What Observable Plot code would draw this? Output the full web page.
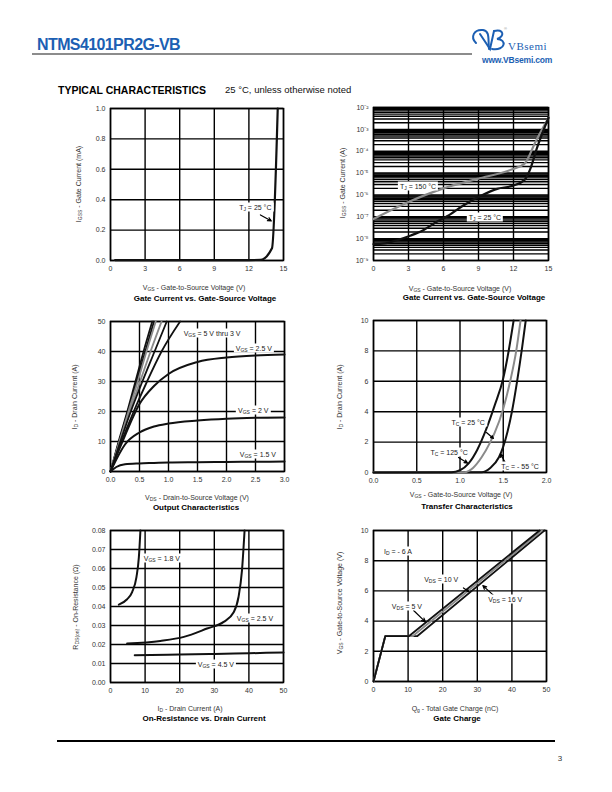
<!DOCTYPE html>
<html><head><meta charset="utf-8">
<script src="https://cdn.jsdelivr.net/npm/d3@7"></script>
<script src="https://cdn.jsdelivr.net/npm/@observablehq/plot@0.6"></script>
<style>
body{margin:0;background:#fff;font-family:"Liberation Sans",Arial,sans-serif;}
#page{position:relative;width:612px;height:792px;overflow:hidden;background:#fff;}
.abs{position:absolute;white-space:nowrap;line-height:1;}
.ax{font-size:7px;color:#333;}
.ttl{font-weight:bold;font-size:8px;color:#000;}
.ann{font-size:7px;color:#222;background:#fff;padding:1px 2px;}
sub{font-size:5px;vertical-align:-1.5px;line-height:0;}
</style></head>
<body><div id="page"></div>
<script>
// ---------- DATA ----------
// Chart 1: Gate current vs gate-source voltage (linear)
const c1Vgs  = [0.4, 3, 6, 9, 12, 13, 14, 14.5];
const c1Igss = [0.003, 0.003, 0.003, 0.003, 0.003, 0.004, 0.08, 1.0];
const c1XTicks = [0, 3, 6, 9, 12, 15];
const c1YTicks = [0, 0.2, 0.4, 0.6, 0.8, 1.0];

// Chart 2: Gate current vs gate-source voltage (log)
const c2Vgs150 = [0, 2.9, 6.0, 8.9, 11.9, 12.95, 13.9, 15];
const c2I150   = [7.9e-8, 4.5e-7, 2.0e-6, 5.4e-6, 1.5e-5, 2.7e-5, 2.8e-4, 3.4e-3];
const c2Vgs25  = [0, 0.9, 2, 3.2, 4.3, 5.5, 6.3, 7.7, 9.2, 10.6, 11.9, 12.95, 13.45, 14.0, 15];
const c2I25    = [5.6e-9, 6.0e-9, 8.5e-9, 1.4e-8, 2.5e-8, 6.2e-8, 1.05e-7, 3.3e-7, 9.1e-7, 1.9e-6, 2.6e-6, 4.9e-6, 1.6e-5, 1.35e-4, 3.4e-3];
const c2XTicks = [0, 3, 6, 9, 12, 15];
const c2YTicks = [1e-9, 1e-8, 1e-7, 1e-6, 1e-5, 1e-4, 1e-3, 1e-2];

// Chart 3: Output characteristics
const c3Vds    = [0, 0.1, 0.25, 0.5, 0.75, 1.0, 1.5, 2.0, 2.5, 3.0];
const c3Id15   = [0, 1.5, 2.4, 2.7, 2.85, 3.0, 3.1, 3.2, 3.25, 3.3];
const c3Id20   = [0, 4, 9, 13, 15, 16, 17, 17.6, 17.9, 18];
const c3Id25   = [0, 5, 12, 22.5, 28.5, 32.5, 36.5, 38, 38.7, 39];
const c3SteepId = [0, 10, 20, 30, 40, 50];
const c3SteepVgs = ["5 V", "4.5 V", "4 V", "3.5 V", "3.25 V", "3 V"];
const c3SteepVds = [
  [0, 0.14, 0.29, 0.43, 0.57, 0.72],
  [0, 0.15, 0.30, 0.45, 0.60, 0.75],
  [0, 0.155, 0.31, 0.47, 0.62, 0.78],
  [0, 0.16, 0.33, 0.51, 0.69, 0.88],
  [0, 0.17, 0.35, 0.55, 0.76, 0.97],
  [0, 0.19, 0.40, 0.63, 0.88, 1.2]
];
const c3SteepGray = [false, false, true, true, false, false];
const c3XTicks = [0, 0.5, 1.0, 1.5, 2.0, 2.5, 3.0];
const c3YTicks = [0, 10, 20, 30, 40, 50];

// Chart 4: Transfer characteristics
const c4Vgs125 = [0, 0.9, 1.0, 1.1, 1.2, 1.3, 1.4, 1.5, 1.55, 1.62];
const c4Id125  = [0, 0.02, 0.15, 0.6, 1.5, 2.8, 4.4, 6.2, 7.6, 10];
const c4Vgs25  = [0, 1.05, 1.15, 1.25, 1.35, 1.4, 1.5, 1.58, 1.65, 1.70];
const c4Id25   = [0, 0.02, 0.3, 1.0, 2.0, 2.6, 4.2, 6.0, 8.0, 10];
const c4Vgs55  = [0, 1.25, 1.35, 1.45, 1.5, 1.55, 1.6, 1.66, 1.72, 1.76];
const c4Id55   = [0, 0.02, 0.3, 1.0, 1.7, 2.7, 4.0, 6.0, 8.3, 10];
const c4XTicks = [0, 0.5, 1.0, 1.5, 2.0];
const c4YTicks = [0, 2, 4, 6, 8, 10];

// Chart 5: On-resistance vs drain current
const c5Id18 = [2.4, 4.8, 6.25, 7.5, 8.2, 8.65];
const c5R18  = [0.041, 0.0438, 0.0476, 0.0555, 0.066, 0.08];
const c5Id25 = [4.8, 14.4, 21.2, 27.9, 32.7, 35.6, 37.0, 38.0, 38.75];
const c5R25  = [0.0205, 0.0219, 0.024, 0.0284, 0.0319, 0.037, 0.045, 0.059, 0.08];
const c5Id45 = [7, 20, 30, 40, 50];
const c5R45  = [0.0144, 0.0147, 0.015, 0.0154, 0.0158];
const c5XTicks = [0, 10, 20, 30, 40, 50];
const c5YTicks = [0, 0.01, 0.02, 0.03, 0.04, 0.05, 0.06, 0.07, 0.08];

// Chart 6: Gate charge
const c6Qg5  = [0, 3.4, 10.2, 48.0];
const c6Qg10 = [0, 3.4, 11.3, 48.7];
const c6Qg16 = [0, 3.4, 12.6, 49.4];
const c6Vgs  = [0, 3.0, 3.0, 10];
const c6XTicks = [0, 10, 20, 30, 40, 50];
const c6YTicks = [0, 2, 4, 6, 8, 10];

// ---------- DRAWING ----------
const FONT = "Liberation Sans, Arial, sans-serif";
const page = document.getElementById("page");
const BLACK = "#111", GRAY = "#8a8a8a";

function text(html, cx, cy, cls, rot, anchor) {
  const d = document.createElement("div");
  d.className = "abs " + cls;
  d.innerHTML = html;
  d.style.left = cx + "px"; d.style.top = cy + "px";
  d.style.transform = (anchor === "left" ? "translate(0,-50%)" : "translate(-50%,-50%)") + (rot ? " rotate(-90deg)" : "");
  page.appendChild(d);
  return d;
}
const pairs = (xs, ys) => xs.map((x, i) => [x, ys[i]]);
const line = (xs, ys, stroke, w = 2) => Plot.line(pairs(xs, ys), {stroke, strokeWidth: w, curve: "monotone-x"});
const arrow = (x1, y1, x2, y2) => Plot.arrow([{x1, y1, x2, y2}], {x1: "x1", y1: "y1", x2: "x2", y2: "y2", stroke: "#000", strokeWidth: 1.2, headLength: 5, headAngle: 50});

function chart(cfg) {
  const ml = 40, mt = 8, mr = 10, mb = 22;
  const p = Plot.plot({
    width: cfg.W + ml + mr, height: cfg.H + mt + mb,
    marginLeft: ml, marginRight: mr, marginTop: mt, marginBottom: mb,
    style: {fontFamily: FONT, fontSize: "7px", color: "#333", background: "none", overflow: "visible"},
    x: cfg.x, y: cfg.y,
    marks: [
      Plot.ruleX(cfg.xGrid, {stroke: "#000", strokeWidth: 1.4}),
      Plot.ruleY(cfg.yGrid, {stroke: "#000", strokeWidth: 1.4}),
      Plot.frame({stroke: "#000", strokeWidth: 1.5}),
      Plot.axisX(cfg.xTicks, {tickSize: 0, tickPadding: 6, tickFormat: cfg.xFmt, label: null}),
      Plot.axisY(cfg.yTicks, {tickSize: 0, tickPadding: 5, tickFormat: cfg.yFmt, label: null}),
      ...cfg.marks
    ]
  });
  p.style.position = "absolute";
  p.style.left = (cfg.L - ml) + "px";
  p.style.top = (cfg.T - mt) + "px";
  page.appendChild(p);
  const sx = p.scale("x"), sy = p.scale("y");
  for (const a of cfg.notes || []) {
    text(a.html, cfg.L - ml + sx.apply(a.x), cfg.T - mt + sy.apply(a.y), "ann");
  }
  text(cfg.xLabel[0], cfg.xLabel[1], cfg.xLabel[2], "ax");
  text(cfg.yLabel[0], cfg.yLabel[1], cfg.yLabel[2], "ax", true);
  text(cfg.title[0], cfg.title[1], cfg.title[2], "ttl");
  return p;
}

const f1 = d3.format(".1f"), f2 = d3.format(".2f"), f0 = d3.format("d");
const supMap = {"-": "⁻", "0": "⁰", "1": "¹", "2": "²", "3": "³", "4": "⁴", "5": "⁵", "6": "⁶", "7": "⁷", "8": "⁸", "9": "⁹"};
const fPow = d => "10" + String(Math.round(Math.log10(d))).split("").map(c => supMap[c]).join("");
const logGrid = [];
for (const dec of c2YTicks) for (let m = 1; m <= 9; m++) { const v = dec * m; if (v <= 1e-2 * 1.0001) logGrid.push(v); }

// Chart 1
chart({
  L: 110, T: 108, W: 173, H: 152,
  x: {domain: [0, 15]}, y: {domain: [0, 1]},
  xGrid: c1XTicks, yGrid: c1YTicks, xTicks: c1XTicks, yTicks: c1YTicks, xFmt: f0, yFmt: f1,
  marks: [line(c1Vgs, c1Igss, BLACK, 2.2), arrow(13.0, 0.30, 13.95, 0.26)],
  notes: [{html: "T<sub>J</sub> = 25 °C", x: 12.6, y: 0.35}],
  xLabel: ["V<sub>GS</sub> - Gate-to-Source Voltage (V)", 194, 287],
  yLabel: ["I<sub>GSS</sub> - Gate Current (mA)", 78, 184],
  title: ["Gate Current vs. Gate-Source Voltage", 205, 299]
});

// Chart 2
chart({
  L: 373, T: 107, W: 175, H: 153,
  x: {domain: [0, 15]}, y: {type: "log", domain: [1e-9, 1e-2]},
  xGrid: c2XTicks, yGrid: logGrid, xTicks: c2XTicks, yTicks: c2YTicks, xFmt: f0, yFmt: fPow,
  marks: [line(c2Vgs150, c2I150, GRAY, 2.2), line(c2Vgs25, c2I25, BLACK, 2.2)],
  notes: [{html: "T<sub>J</sub> = 150 °C", x: 3.86, y: 2.4e-6}, {html: "T<sub>J</sub> = 25 °C", x: 9.6, y: 9.3e-8}],
  xLabel: ["V<sub>GS</sub> - Gate-to-Source Voltage (V)", 460, 288],
  yLabel: ["I<sub>GSS</sub> - Gate Current (A)", 342, 183],
  title: ["Gate Current vs. Gate-Source Voltage", 474, 298]
});

// Chart 3
chart({
  L: 110, T: 321, W: 174, H: 150,
  x: {domain: [0, 3]}, y: {domain: [0, 50]},
  xGrid: c3XTicks, yGrid: c3YTicks, xTicks: c3XTicks, yTicks: c3YTicks, xFmt: f1, yFmt: f0,
  marks: [
    ...c3SteepVds.map((xs, i) => line(xs, c3SteepId, c3SteepGray[i] ? GRAY : BLACK, 1.8)),
    line(c3Vds, c3Id25, BLACK, 2), line(c3Vds, c3Id20, BLACK, 2), line(c3Vds, c3Id15, BLACK, 2)
  ],
  notes: [
    {html: "V<sub>GS</sub> = 5 V thru 3 V", x: 1.76, y: 46},
    {html: "V<sub>GS</sub> = 2.5 V", x: 2.48, y: 41},
    {html: "V<sub>GS</sub> = 2 V", x: 2.47, y: 20.3},
    {html: "V<sub>GS</sub> = 1.5 V", x: 2.55, y: 5.7}
  ],
  xLabel: ["V<sub>DS</sub> - Drain-to-Source Voltage (V)", 197, 497],
  yLabel: ["I<sub>D</sub> - Drain Current (A)", 74, 397],
  title: ["Output Characteristics", 196, 508]
});

// Chart 4
chart({
  L: 373, T: 320, W: 173, H: 152,
  x: {domain: [0, 2]}, y: {domain: [0, 10]},
  xGrid: c4XTicks, yGrid: c4YTicks, xTicks: c4XTicks, yTicks: c4YTicks, xFmt: f1, yFmt: f0,
  marks: [
    line(c4Vgs55, c4Id55, BLACK, 2), line(c4Vgs25, c4Id25, GRAY, 2), line(c4Vgs125, c4Id125, BLACK, 2),
    arrow(1.306, 2.63, 1.387, 2.24), arrow(0.983, 0.99, 1.087, 0.62), arrow(1.526, 0.62, 1.468, 1.22)
  ],
  notes: [
    {html: "T<sub>C</sub> = 25 °C", x: 1.10, y: 3.29},
    {html: "T<sub>C</sub> = 125 °C", x: 0.88, y: 1.32},
    {html: "T<sub>C</sub> = - 55 °C", x: 1.70, y: 0.39}
  ],
  xLabel: ["V<sub>GS</sub> - Gate-to-Source Voltage (V)", 461, 494],
  yLabel: ["I<sub>D</sub> - Drain Current (A)", 339, 397],
  title: ["Transfer Characteristics", 467, 507]
});

// Chart 5
chart({
  L: 110, T: 530, W: 173, H: 152,
  x: {domain: [0, 50]}, y: {domain: [0, 0.08]},
  xGrid: c5XTicks, yGrid: c5YTicks, xTicks: c5XTicks, yTicks: c5YTicks, xFmt: f0, yFmt: f2,
  marks: [line(c5Id18, c5R18, BLACK, 2), line(c5Id25, c5R25, BLACK, 2), line(c5Id45, c5R45, BLACK, 2)],
  notes: [
    {html: "V<sub>GS</sub> = 1.8 V", x: 15.0, y: 0.0653},
    {html: "V<sub>GS</sub> = 2.5 V", x: 41.9, y: 0.0337},
    {html: "V<sub>GS</sub> = 4.5 V", x: 30.6, y: 0.0095}
  ],
  xLabel: ["I<sub>D</sub> - Drain Current (A)", 190, 708],
  yLabel: ["R<sub>DS(on)</sub> - On-Resistance (Ω)", 75, 607],
  title: ["On-Resistance vs. Drain Current", 204, 719]
});

// Chart 6
chart({
  L: 373, T: 530, W: 173, H: 151,
  x: {domain: [0, 50]}, y: {domain: [0, 10]},
  xGrid: c6XTicks, yGrid: c6YTicks, xTicks: c6XTicks, yTicks: c6YTicks, xFmt: f0, yFmt: f0,
  marks: [
    Plot.line(pairs(c6Qg16, c6Vgs), {stroke: BLACK, strokeWidth: 1.8}),
    Plot.line(pairs(c6Qg10, c6Vgs), {stroke: GRAY, strokeWidth: 1.8}),
    Plot.line(pairs(c6Qg5, c6Vgs), {stroke: BLACK, strokeWidth: 1.8}),
    arrow(26.0, 6.2, 27.6, 5.95), arrow(11.6, 4.7, 15.0, 3.95), arrow(34.7, 5.7, 31.6, 6.35)
  ],
  notes: [
    {html: "I<sub>D</sub> = - 6 A", x: 7.2, y: 8.6},
    {html: "V<sub>DS</sub> = 10 V", x: 19.7, y: 6.75},
    {html: "V<sub>DS</sub> = 5 V", x: 9.8, y: 5.0},
    {html: "V<sub>DS</sub> = 16 V", x: 38.2, y: 5.4}
  ],
  xLabel: ["Q<sub>g</sub> - Total Gate Charge (nC)", 455, 708],
  yLabel: ["V<sub>GS</sub> - Gate-to-Source Voltage (V)", 339, 603],
  title: ["Gate Charge", 457, 719]
});

// ---------- PAGE FURNITURE ----------
function box(x, y, w, h, color) {
  const d = document.createElement("div");
  d.style.cssText = `position:absolute;left:${x}px;top:${y}px;width:${w}px;height:${h}px;background:${color}`;
  page.appendChild(d);
}
const hdr = text("NTMS4101PR2G-VB", 37, 45, "", false, "left");
hdr.style.cssText += "font-weight:bold;font-size:16px;letter-spacing:-0.6px;color:#1c5fb3;";
box(32, 53, 440, 2, "#8c8c8c");
const web = text("www.VBsemi.com", 482, 60, "", false, "left");
web.style.cssText += "font-weight:bold;font-size:8.5px;color:#1c5fb3;letter-spacing:-0.2px;";
const brand = text("VBsemi", 508, 46, "", false, "left");
brand.style.cssText += "font-family:'Liberation Serif',serif;font-size:11px;color:#1c5fb3;letter-spacing:0.5px;";
const logo = document.createElementNS("http://www.w3.org/2000/svg", "svg");
logo.setAttribute("width", "40"); logo.setAttribute("height", "30");
logo.style.cssText = "position:absolute;left:468px;top:25px;";
logo.innerHTML = `<g fill="none" stroke="#1c5fb3" stroke-width="2" stroke-linecap="round">
<path d="M8 18 C2 12 6 4 15 5 C22 6 20 14 21 24"/>
<path d="M12 9 L22 24 L26 6"/>
<path d="M26 6 C36 3 37 12 29 14 C39 14 38 26 24 24"/></g>
<text x="36" y="5" font-size="4" fill="#888">®</text>`;
page.appendChild(logo);

const sec = text("TYPICAL CHARACTERISTICS", 58, 90, "", false, "left");
sec.style.cssText += "font-weight:bold;font-size:10.5px;color:#000;";
const sec2 = text("25 °C, unless otherwise noted", 225, 90, "", false, "left");
sec2.style.cssText += "font-size:9.5px;color:#111;";

box(57, 740, 498, 1.5, "#000");
const pg = text("3", 560, 759, "", false);
pg.style.cssText += "font-size:8px;color:#333;";
</script></body></html>
